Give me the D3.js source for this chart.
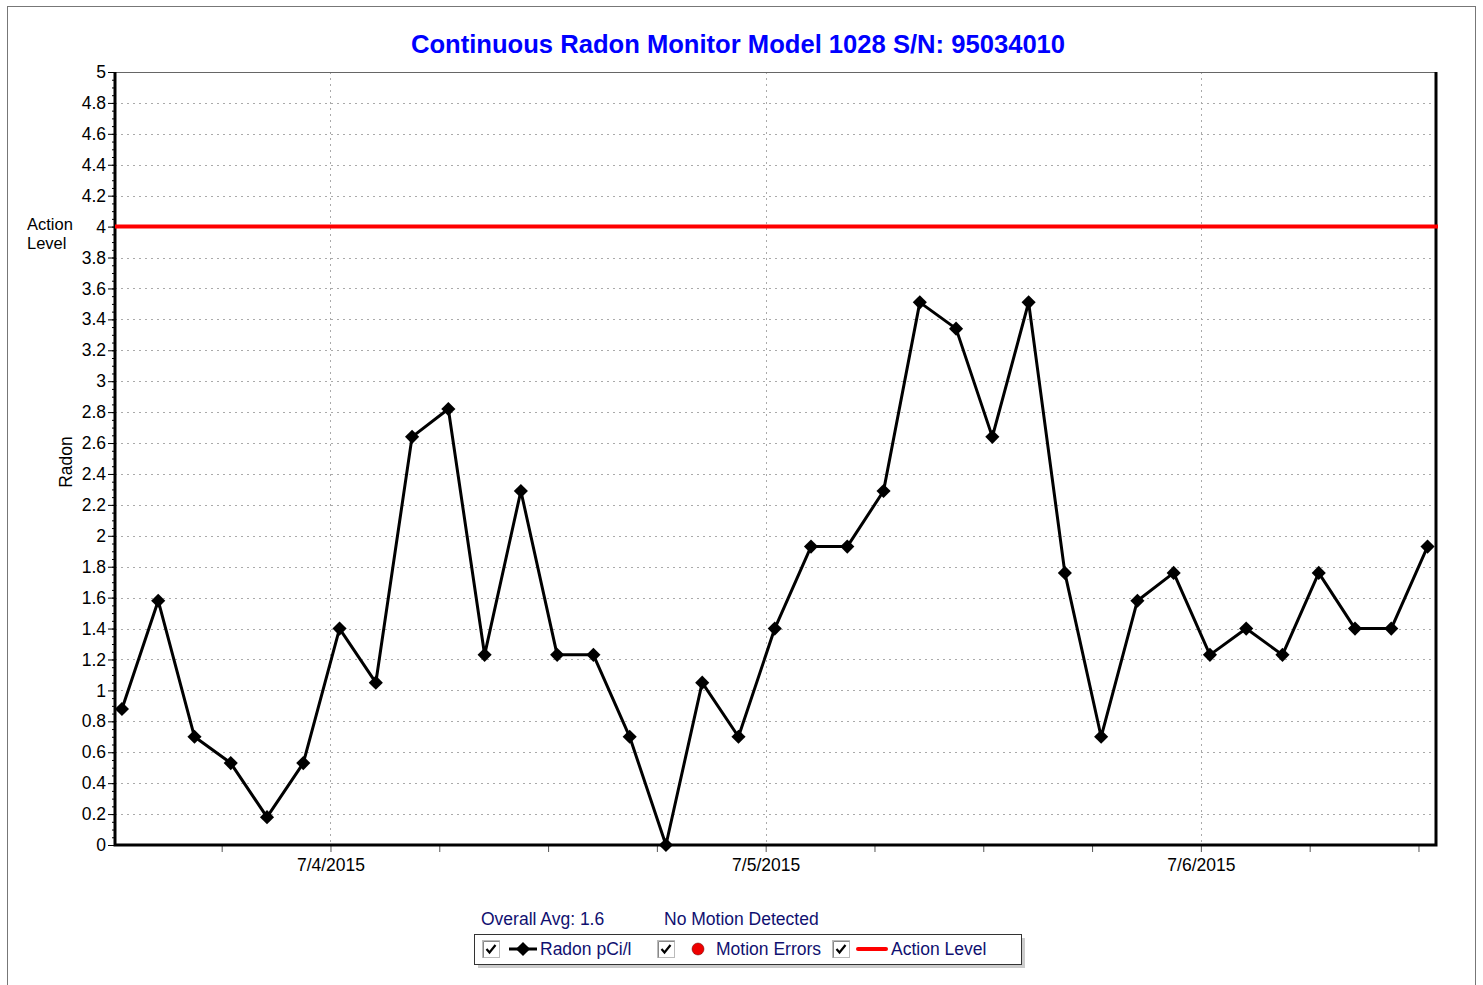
<!DOCTYPE html>
<html lang="en">
  <head>
    <meta charset="UTF-8" />
    <title>Continuous Radon Monitor</title>
    <script src="https://d3js.org/d3.v7.min.js"></script>
    <style>
      html, body { margin: 0; padding: 0; background: #fff; }
      svg { display: block; font-family: "Liberation Sans", Arial, sans-serif; }
    </style>
  </head>
  <body>
    <svg id="chart" width="1483" height="985"></svg>
    <script>
      // readings every 2 hours, starting 7/3/2015 12:30
      const startTime = new Date(2015, 6, 3, 12, 30);
      const radon = [
        0.88, 1.58, 0.7, 0.53, 0.18, 0.53, 1.4, 1.05, 2.64, 2.82, 1.23, 2.29,
        1.23, 1.23, 0.7, 0, 1.05, 0.7, 1.4, 1.93, 1.93, 2.29, 3.51, 3.34,
        2.64, 3.51, 1.76, 0.7, 1.58, 1.76, 1.23, 1.4, 1.23, 1.76, 1.4, 1.4,
        1.93,
      ];
      const actionLevel = 4;
      const yTicks = d3.range(0, 5.01, 0.2).map((v) => +v.toFixed(1));
      const dayTicks = [new Date(2015, 6, 4), new Date(2015, 6, 5), new Date(2015, 6, 6)];
      const legendItems = ["Radon pCi/l", "Motion Errors", "Action Level"];

      const data = radon.map((v, i) => ({
        t: d3.timeHour.offset(startTime, i * 2),
        v,
      }));

      const svg = d3.select("#chart");
      const plotL = 115, plotR = 1436, plotT = 72, plotB = 845;
      const fs = 17.5;

      // outer frame
      svg.append("rect")
        .attr("x", 7.5).attr("y", 6.5)
        .attr("width", 1468).attr("height", 990)
        .attr("fill", "none").attr("stroke", "#777").attr("stroke-width", 1);

      const x = d3.scaleTime()
        .domain([new Date(2015, 6, 3, 12, 7), new Date(2015, 6, 6, 12, 58)])
        .range([plotL, plotR]);
      const y = d3.scaleLinear().domain([0, 5]).range([plotB, plotT]);

      svg.append("text")
        .attr("x", 738).attr("y", 53)
        .attr("text-anchor", "middle")
        .attr("font-size", 25.6).attr("font-weight", "bold")
        .attr("fill", "#0000ff")
        .text("Continuous Radon Monitor Model 1028 S/N: 95034010");

      // grid
      const grid = svg.append("g")
        .attr("stroke", "#aaa").attr("stroke-dasharray", "2,4").attr("stroke-width", 1);
      grid.selectAll("line.h")
        .data(yTicks.filter((d) => d > 0 && d < 5))
        .join("line")
        .attr("x1", plotL).attr("x2", plotR)
        .attr("y1", (d) => Math.round(y(d)) + 0.5).attr("y2", (d) => Math.round(y(d)) + 0.5);
      grid.selectAll("line.v")
        .data(dayTicks)
        .join("line")
        .attr("x1", (d) => Math.round(x(d)) + 0.5).attr("x2", (d) => Math.round(x(d)) + 0.5)
        .attr("y1", plotT).attr("y2", plotB);

      // top border thin
      svg.append("line")
        .attr("x1", plotL).attr("x2", plotR).attr("y1", plotT + 0.5).attr("y2", plotT + 0.5)
        .attr("stroke", "#666").attr("stroke-width", 1);

      // y axis
      const yAxis = svg.append("g").attr("transform", `translate(${plotL},0)`);
      yAxis.call(
        d3.axisLeft(y).tickValues(d3.range(0, 5.001, 0.05)).tickSize(3).tickFormat("")
      );
      yAxis.append("g").call(
        d3.axisLeft(y).tickValues(yTicks).tickSize(7).tickPadding(2)
          .tickFormat((d) => d3.format("~g")(d))
      );
      yAxis.selectAll(".domain").remove();
      yAxis.selectAll("line").attr("stroke", "#000");
      yAxis.selectAll("text")
        .attr("font-size", fs).attr("fill", "#000")
        .attr("font-family", "Liberation Sans, Arial, sans-serif");

      // x axis
      const quarterTicks = d3.timeHour.every(6).range(x.domain()[0], x.domain()[1]);
      const xAxis = svg.append("g").attr("transform", `translate(0,${plotB})`);
      xAxis.call(d3.axisBottom(x).tickValues(quarterTicks).tickSize(7).tickFormat(""));
      xAxis.append("g").call(
        d3.axisBottom(x).tickValues(dayTicks).tickSize(0).tickPadding(14)
          .tickFormat(d3.timeFormat("%-m/%-d/%Y"))
      );
      xAxis.selectAll(".domain").remove();
      xAxis.selectAll("line").attr("stroke", "#555");
      xAxis.selectAll("text")
        .attr("font-size", fs).attr("fill", "#000")
        .attr("font-family", "Liberation Sans, Arial, sans-serif");

      // thick frame: left, bottom, right
      svg.append("path")
        .attr("d", `M${plotL},${plotT}V${plotB}H${plotR}V${plotT}`)
        .attr("fill", "none").attr("stroke", "#000").attr("stroke-width", 3);

      // action level
      svg.append("line")
        .attr("x1", plotL).attr("x2", plotR + 2)
        .attr("y1", y(actionLevel)).attr("y2", y(actionLevel))
        .attr("stroke", "#ff0000").attr("stroke-width", 4);

      svg.append("text")
        .attr("x", 27).attr("y", 230)
        .attr("font-size", 16.5).attr("fill", "#000")
        .selectAll("tspan")
        .data(["Action", "Level"])
        .join("tspan")
        .attr("x", 27).attr("dy", (d, i) => (i ? 19 : 0))
        .text((d) => d);

      svg.append("text")
        .attr("transform", "translate(72,462) rotate(-90)")
        .attr("text-anchor", "middle")
        .attr("font-size", fs).attr("fill", "#000")
        .text("Radon");

      // series
      const line = d3.line().x((d) => x(d.t)).y((d) => y(d.v));
      svg.append("path")
        .datum(data)
        .attr("d", line)
        .attr("fill", "none").attr("stroke", "#000")
        .attr("stroke-width", 3).attr("stroke-linejoin", "round");

      const diamond = d3.symbol().type(d3.symbolSquare).size(100);
      svg.append("g")
        .selectAll("path")
        .data(data)
        .join("path")
        .attr("d", diamond)
        .attr("transform", (d) => `translate(${x(d.t)},${y(d.v)}) rotate(45)`)
        .attr("fill", "#000");

      // legend
      const navy = "#101070";
      svg.append("text")
        .attr("x", 481).attr("y", 925)
        .attr("font-size", fs).attr("fill", navy)
        .text("Overall Avg: 1.6");
      svg.append("text")
        .attr("x", 664).attr("y", 925)
        .attr("font-size", fs).attr("fill", navy)
        .text("No Motion Detected");

      svg.append("rect")
        .attr("x", 478).attr("y", 938).attr("width", 547).attr("height", 30)
        .attr("fill", "#ccc");
      svg.append("rect")
        .attr("x", 474.5).attr("y", 934.5).attr("width", 547).attr("height", 30)
        .attr("fill", "#fff").attr("stroke", "#333").attr("stroke-width", 1);

      const itemX = [482, 657, 832];
      const textX = [540, 716, 891];
      const legend = svg.append("g");
      itemX.forEach((bx, i) => {
        const g = legend.append("g").attr("transform", `translate(${bx},940)`);
        g.append("rect").attr("x", 0.5).attr("y", 0.5).attr("width", 17).attr("height", 17)
          .attr("fill", "#fff").attr("stroke", "#bbb");
        g.append("path").attr("d", "M1.5,17.5V1.5H17.5").attr("fill", "none").attr("stroke", "#888");
        g.append("path").attr("d", "M4.5,9l3,3.5l6-7.5")
          .attr("fill", "none").attr("stroke", "#000").attr("stroke-width", 2.2);
        legend.append("text")
          .attr("x", textX[i]).attr("y", 955)
          .attr("font-size", fs).attr("fill", navy)
          .text(legendItems[i]);
      });
      // legend symbols
      legend.append("line").attr("x1", 509).attr("x2", 537).attr("y1", 949).attr("y2", 949)
        .attr("stroke", "#000").attr("stroke-width", 3);
      legend.append("path").attr("d", diamond)
        .attr("transform", "translate(523,949) rotate(45)").attr("fill", "#000");
      legend.append("circle").attr("cx", 698).attr("cy", 949).attr("r", 6)
        .attr("fill", "#ee0000").attr("stroke", "#600").attr("stroke-width", 0.5);
      legend.append("line").attr("x1", 858).attr("x2", 886).attr("y1", 949).attr("y2", 949)
        .attr("stroke", "#ff0000").attr("stroke-width", 4).attr("stroke-linecap", "round");
    </script>
  </body>
</html>
